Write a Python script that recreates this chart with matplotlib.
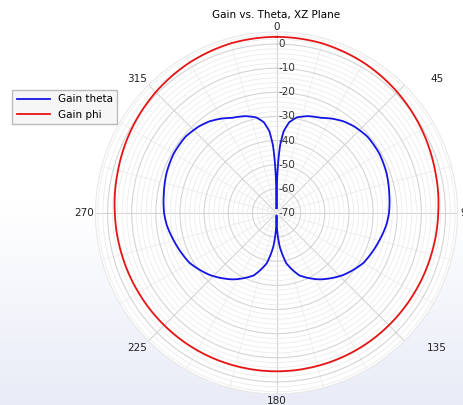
import numpy as np
import matplotlib.pyplot as plt
from matplotlib.colors import LinearSegmentedColormap
from matplotlib.transforms import offset_copy

plt.rcParams['axes.unicode_minus'] = False
plt.rcParams['font.family'] = 'DejaVu Sans'

# Gain theta (dB) vs theta (deg)
theta_deg = [0, 1, 2, 3, 5, 8, 12, 18, 25, 30, 36, 42, 50, 60, 70, 80, 90,
             96, 106, 120, 133, 147, 160, 169, 174.5, 177.5, 180,
             182.5, 185.5, 191, 200, 213, 227, 240, 254, 264, 270, 280, 290,
             300, 310, 318, 324, 330, 335, 342, 348, 352, 355, 357, 358, 359, 360]
gain_theta = [-68, -56, -48, -42, -36, -32, -29.5, -27.8, -26.5, -24.8, -23.0, -21.8, -20.8, -20.8, -21.5, -22.6, -23.4,
              -24.2, -26.1, -28.5, -32.3, -37.2, -42.5, -48.8, -55.9, -62, -69,
              -62, -55.9, -48.8, -42.5, -37.2, -32.3, -28.5, -26.1, -24.2, -23.4, -22.6, -21.5,
              -20.8, -20.8, -21.8, -23.0, -24.8, -26.5, -27.8, -29.5, -32, -36, -42, -48, -56, -68]

# Gain phi (dB)
phi_deg = list(range(0, 361, 15))
gain_phi = [3.0, 2.8, 2.0, 0.8, -0.6, -2.0, -3.0, -3.6, -4.0, -4.2, -4.3, -4.4, -4.4,
            -4.4, -4.3, -4.2, -4.0, -3.6, -3.0, -2.0, -0.6, 0.8, 2.0, 2.8, 3.0]

r_ticks = [-70, -60, -50, -40, -30, -20, -10, 0]
angle_labels = ['0', '45', '90', '135', '180', '225', '270', '315']
# label centres in figure pixels (x from left, y from top), as in the reference
angle_label_px = [(277, 27), (437, 79), (467, 213), (437, 348),
                  (277, 401), (137, 348), (84, 213), (137, 79)]

W, H = 463, 405
fig = plt.figure(figsize=(W / 100, H / 100), dpi=100)

# pale gradient behind everything
bg = fig.add_axes([0, 0, 1, 1], zorder=-10)
cmap = LinearSegmentedColormap.from_list('bg', ['#ffffff', '#ffffff', '#e9ecf7'])
bg.imshow(np.linspace(0, 1, 256).reshape(-1, 1), cmap=cmap, aspect='auto',
          extent=[0, 1, 0, 1])
bg.axis('off')

ax = fig.add_axes([0.2063, 0.0272, 0.7819, 0.8938], projection='polar')
ax.set_facecolor('white')
ax.set_theta_zero_location('N')
ax.set_theta_direction(-1)

l1, = ax.plot(np.deg2rad(theta_deg), gain_theta, color='#1414e6', lw=1.3, label='Gain theta')
l2, = ax.plot(np.deg2rad(phi_deg), gain_phi, color='#e61414', lw=1.3, label='Gain phi')
# let the polar transform bend the segments into arcs
for ln in (l1, l2):
    ln.get_path()._interpolation_steps = 30

ax.set_rlim(-70, 5)
ax.set_rticks(r_ticks)
ax.set_yticklabels([])
ax.set_yticks(np.arange(-70, 5, 2), minor=True)
tr = offset_copy(ax.transData, fig=fig, x=2, y=0, units='dots')
for t in r_ticks:
    ax.text(0, t, str(t), transform=tr, ha='left', va='center', fontsize=7.5, color='#333333')

ax.set_xticks(np.deg2rad(np.arange(0, 360, 45)))
ax.set_xticklabels([])
ax.set_xticks(np.deg2rad(np.arange(0, 360, 15)), minor=True)
ax.tick_params(which='both', length=0)
for lab, (px, py) in zip(angle_labels, angle_label_px):
    fig.text(px / W, 1 - py / H, lab, ha='center', va='center', fontsize=7.5, color='#222222')

ax.grid(True, which='major', color='#d4d4d4', lw=0.8)
ax.grid(True, which='minor', color='#ececec', lw=0.6)
ax.spines['polar'].set_color('#e8e8e8')

fig.text(0.597, 0.963, 'Gain vs. Theta, XZ Plane', fontsize=7.5, ha='center', va='center')

fig.legend(loc='upper left', bbox_to_anchor=(0.0155, 0.790), fontsize=7.5, handlelength=3.2,
           fancybox=False, edgecolor='#bbbbbb', facecolor='#f6f6f6', framealpha=1)

fig.savefig('out.png', dpi=100)
